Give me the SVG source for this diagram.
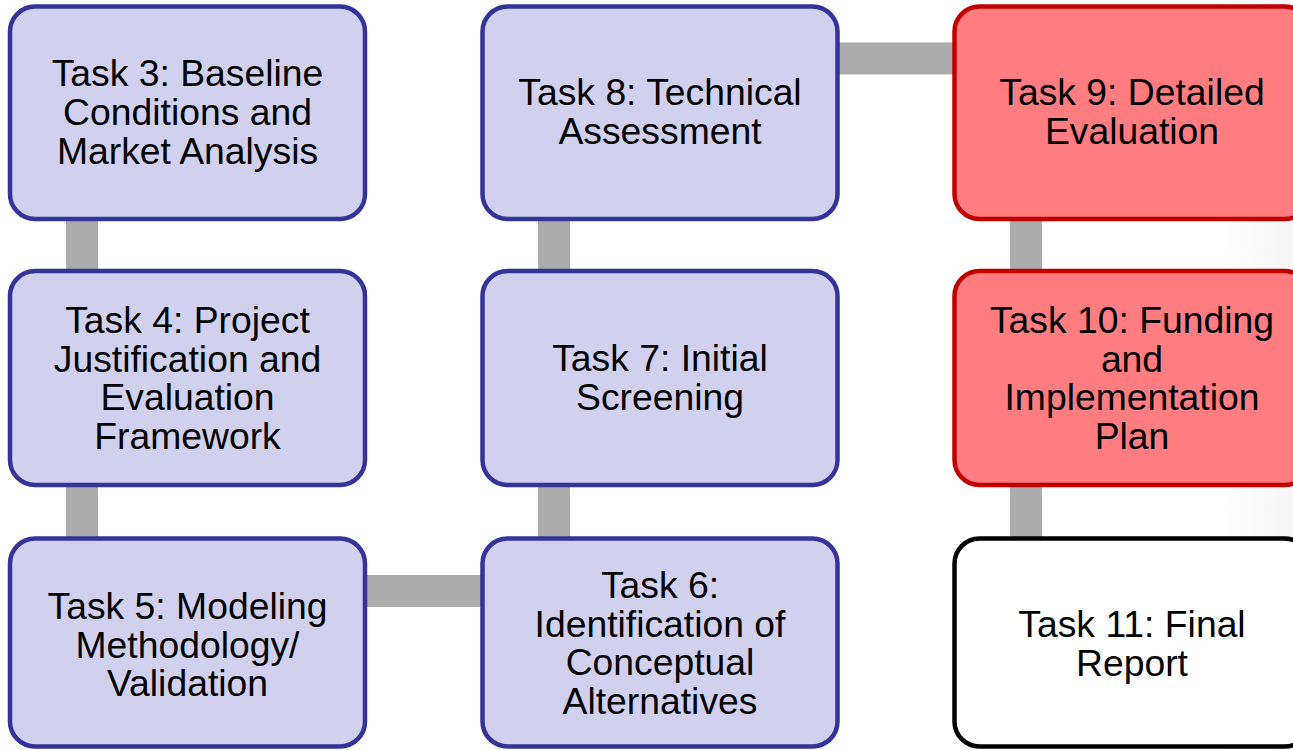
<svg xmlns="http://www.w3.org/2000/svg" width="1293" height="750" viewBox="0 0 1293 750">
<defs>
<linearGradient id="edge" x1="0" y1="0" x2="1" y2="0">
<stop offset="0" stop-color="#FFFFFF"/>
<stop offset="1" stop-color="#F6F6F6"/>
</linearGradient>
<style>
.box{stroke-width:4.5}
.blue{fill:#D1D1EF;stroke:#333399}
.red{fill:#FF7C80;stroke:#C00000}
.white{fill:#FFFFFF;stroke:#000000}
.conn{stroke:#ACACAC;stroke-width:32;fill:none}
text{font-family:"Liberation Sans",Arial,sans-serif;font-size:37.3px;fill:#000000;text-anchor:middle}
</style>
</defs>
<rect x="0" y="0" width="1293" height="750" fill="#FFFFFF"/>
<rect x="1220" y="0" width="73" height="750" fill="url(#edge)"/>
<g id="connectors">
<line class="conn" x1="82" y1="215" x2="82" y2="275"/>
<line class="conn" x1="82" y1="482" x2="82" y2="542"/>
<line class="conn" x1="362" y1="591" x2="485" y2="591"/>
<line class="conn" x1="554" y1="482" x2="554" y2="542"/>
<line class="conn" x1="554" y1="215" x2="554" y2="275"/>
<line class="conn" x1="835" y1="58.5" x2="958" y2="58.5"/>
<line class="conn" x1="1026" y1="215" x2="1026" y2="275"/>
<line class="conn" x1="1026" y1="482" x2="1026" y2="542"/>
</g>
<g id="task3">
<rect class="box blue" x="10" y="6.5" width="355" height="212.5" rx="25"/>
<text x="187.5" y="86">Task 3: Baseline</text>
<text x="187.5" y="125">Conditions and</text>
<text x="187.5" y="164">Market Analysis</text>
</g>
<g id="task4">
<rect class="box blue" x="10" y="271" width="355" height="214" rx="25"/>
<text x="187.5" y="333">Task 4: Project</text>
<text x="187.5" y="371.5">Justification and</text>
<text x="187.5" y="410">Evaluation</text>
<text x="187.5" y="448.5">Framework</text>
</g>
<g id="task5">
<rect class="box blue" x="10" y="538.5" width="355" height="208" rx="25"/>
<text x="187.5" y="619">Task 5: Modeling</text>
<text x="187.5" y="657.5">Methodology/</text>
<text x="187.5" y="696">Validation</text>
</g>
<g id="task6">
<rect class="box blue" x="482.5" y="538.5" width="355" height="208" rx="25"/>
<text x="660" y="598">Task 6:</text>
<text x="660" y="636.5">Identification of</text>
<text x="660" y="675">Conceptual</text>
<text x="660" y="713.5">Alternatives</text>
</g>
<g id="task7">
<rect class="box blue" x="482.5" y="271" width="355" height="214" rx="25"/>
<text x="660" y="371">Task 7: Initial</text>
<text x="660" y="409.5">Screening</text>
</g>
<g id="task8">
<rect class="box blue" x="482.5" y="6.5" width="355" height="212.5" rx="25"/>
<text x="660" y="105">Task 8: Technical</text>
<text x="660" y="143.5">Assessment</text>
</g>
<g id="task9">
<rect class="box red" x="954.5" y="6.5" width="355" height="212.5" rx="25"/>
<text x="1132" y="105">Task 9: Detailed</text>
<text x="1132" y="143.5">Evaluation</text>
</g>
<g id="task10">
<rect class="box red" x="954.5" y="271" width="355" height="214" rx="25"/>
<text x="1132" y="333">Task 10: Funding</text>
<text x="1132" y="371.5">and</text>
<text x="1132" y="410">Implementation</text>
<text x="1132" y="448.5">Plan</text>
</g>
<g id="task11">
<rect class="box white" x="954.5" y="538.5" width="355" height="208" rx="25"/>
<text x="1132" y="637">Task 11: Final</text>
<text x="1132" y="675.5">Report</text>
</g>
</svg>
